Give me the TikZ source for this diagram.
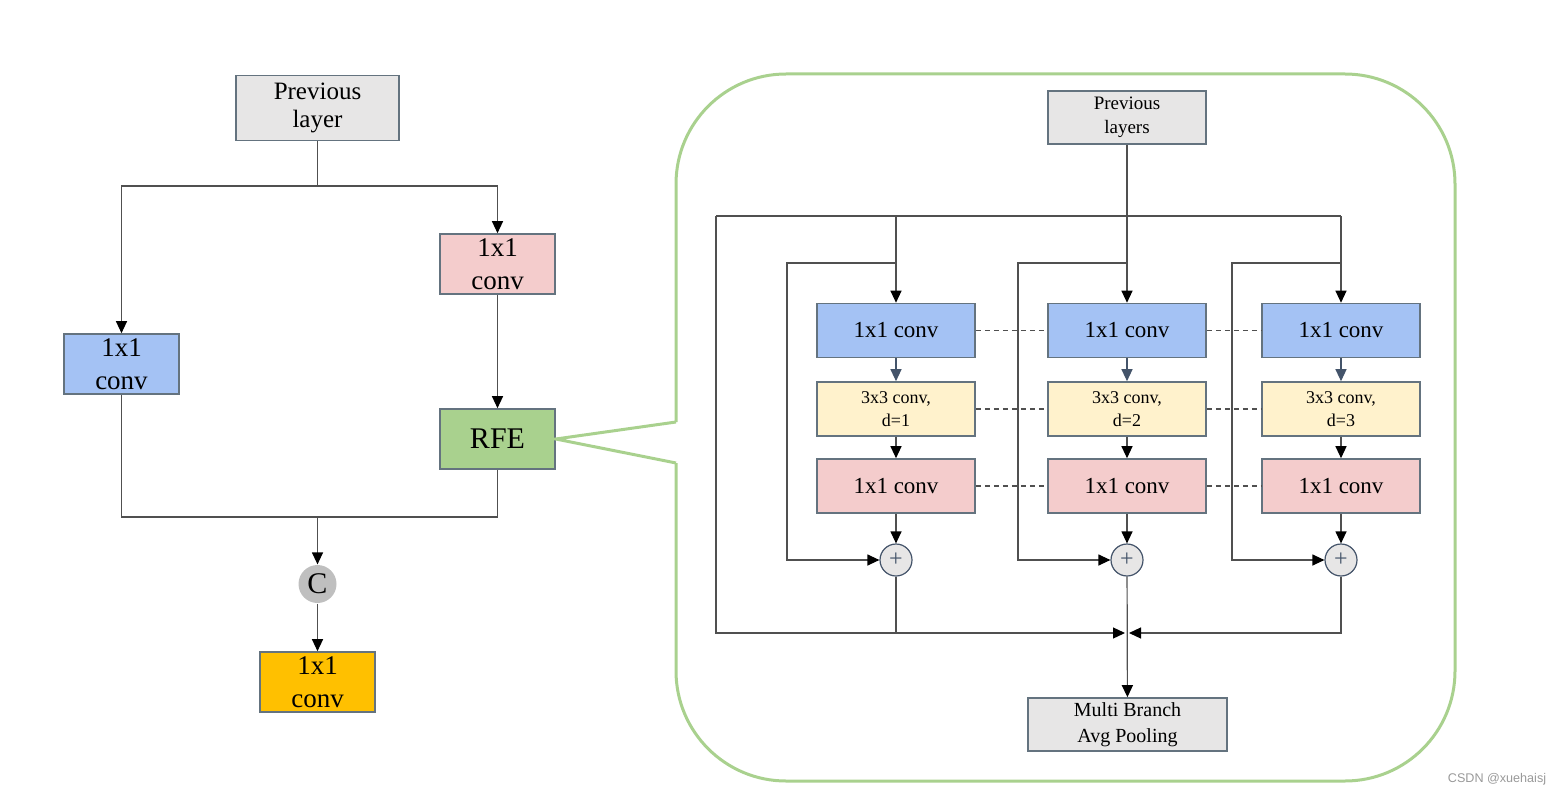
\documentclass[tikz,border=0pt]{standalone}
\usepackage{fontspec}
\setmainfont{Liberation Serif}
\newfontfamily\wmfont{Liberation Sans}
\usetikzlibrary{arrows.meta}
\definecolor{boxblue}{HTML}{A4C2F4}
\definecolor{boxpink}{HTML}{F4CCCC}
\definecolor{boxyellow}{HTML}{FFF2CC}
\definecolor{boxgreen}{HTML}{A9D18E}
\definecolor{boxorange}{HTML}{FFC000}
\definecolor{boxgray}{HTML}{E7E6E6}
\definecolor{catgray}{HTML}{BFBFBF}
\definecolor{edgecol}{HTML}{64737F}
\definecolor{slatecol}{HTML}{44546A}
\definecolor{linecol}{HTML}{505050}
\begin{document}
\begin{tikzpicture}[x=0.5pt,y=-0.5pt,line width=0.6pt,
  >={Triangle[length=6pt,width=5.5pt,color=black]},
  blk/.style={draw=edgecol,line width=0.8pt,align=center,inner sep=0pt},
  bigblk/.style={blk,minimum width=57.5pt,minimum height=30pt,font=\fontsize{13.5}{16.5}\selectfont},
  smallblk/.style={blk,minimum width=79pt,minimum height=27pt,font=\fontsize{11.5}{13}\selectfont},
  link/.style={draw=linecol,->}]
\useasboundingbox (0,0) rectangle (1563,797);
% 左側
\node[blk,minimum width=81.5pt,minimum height=32.5pt,fill=boxgray,font=\fontsize{12.5}{14}\selectfont] (prev) at (317.5,108) {Previous\\layer};
\node[bigblk,fill=boxblue] (lconv) at (121.5,364) {1x1\\conv};
\node[bigblk,fill=boxpink] (rconv) at (497.5,264) {1x1\\conv};
\node[bigblk,fill=boxgreen,font=\fontsize{15}{18}\selectfont] (rfe) at (497.5,439) {RFE};
\node[circle,fill=catgray,minimum size=19pt,inner sep=0pt,font=\fontsize{15}{18}\selectfont] (cat) at (317.5,584) {C};
\node[bigblk,fill=boxorange] (out) at (317.5,682) {1x1\\conv};
\coordinate (split) at (317.5,186);
\coordinate (merge) at (317.5,517);
\draw[linecol] (prev) -- (split);
\draw[link] (split) -| (lconv);
\draw[link] (split) -| (rconv);
\draw[link] (rconv) -- (rfe);
\draw[linecol] (lconv) |- (merge);
\draw[linecol] (rfe) |- (merge);
\draw[link] (merge) -- (cat);
\draw[link] (cat) -- (out);
% 拡大枠
\coordinate (zt) at (676,422);
\coordinate (zb) at (676,463);
\draw[boxgreen,line width=1.5pt,rounded corners=55pt] (zt) -- (676,74) -- (1455,74) -- (1455,781) -- (676,781) -- (zb);
\draw[boxgreen,line width=1.5pt] (zt) -- (rfe.east) -- (zb);
% RFE の中身
\node[blk,minimum width=79pt,minimum height=26.5pt,fill=boxgray,font=\fontsize{9.5}{12}\selectfont] (prevs) at (1127,117.5) {Previous\\layers};
\node[blk,minimum width=99.5pt,minimum height=26.5pt,fill=boxgray,font=\fontsize{10}{13}\selectfont] (pool) at (1127.5,724.5) {Multi Branch\\Avg Pooling};
\foreach \n/\cx/\d in {1/896/1,2/1127/2,3/1341/3}{
  \node[smallblk,fill=boxblue] (a\n) at (\cx,330.5) {1x1 conv};
  \node[smallblk,fill=boxyellow,font=\fontsize{9}{11.5}\selectfont] (b\n) at (\cx,409) {3x3 conv,\\d=\d};
  \node[smallblk,fill=boxpink] (c\n) at (\cx,486) {1x1 conv};
  \node[circle,draw=slatecol,fill=boxgray,minimum size=16pt,inner sep=0pt,text=slatecol,font=\fontsize{12}{12}\selectfont] (p\n) at (\cx,560) {+};
  \coordinate (r\n) at ({\cx-109},263);
  \draw[->,slatecol,>={Triangle[length=6pt,width=5.5pt]}] (a\n) -- (b\n);
  \draw[link] (b\n) -- (c\n);
  \draw[link] (c\n) -- (p\n);
  \draw[link] (a\n |- r\n) -- (r\n) |- (p\n);
}
% 接続
\coordinate (tl) at (716,216);
\coordinate (tr) at (1341,216);
\coordinate (jn) at (1127,633);
\draw[linecol] (tl) -- (tr);
\draw[link] (a1 |- tl) -- (a1);
\draw[link] (tr) -- (a3);
\draw[link] (prevs) -- (a2);
\draw[link,shorten >=1pt] (tl) |- (jn);
\draw[linecol] (p1) -- (p1 |- jn);
\draw[link,shorten >=1pt] (p3) |- (jn);
\draw[link] (p2) -- (pool);
\foreach \r in {a,b,c}{
  \draw[linecol,line width=0.7pt,dash pattern=on 2.5pt off 2pt] (\r1) -- (\r2);
  \draw[linecol,line width=0.7pt,dash pattern=on 2.5pt off 2pt] (\r2) -- (\r3);
}
\node[font=\wmfont\fontsize{6.3}{7}\selectfont,text=black!40] (mark) at (1497,779) {CSDN @xuehaisj};
\end{tikzpicture}
\end{document}
